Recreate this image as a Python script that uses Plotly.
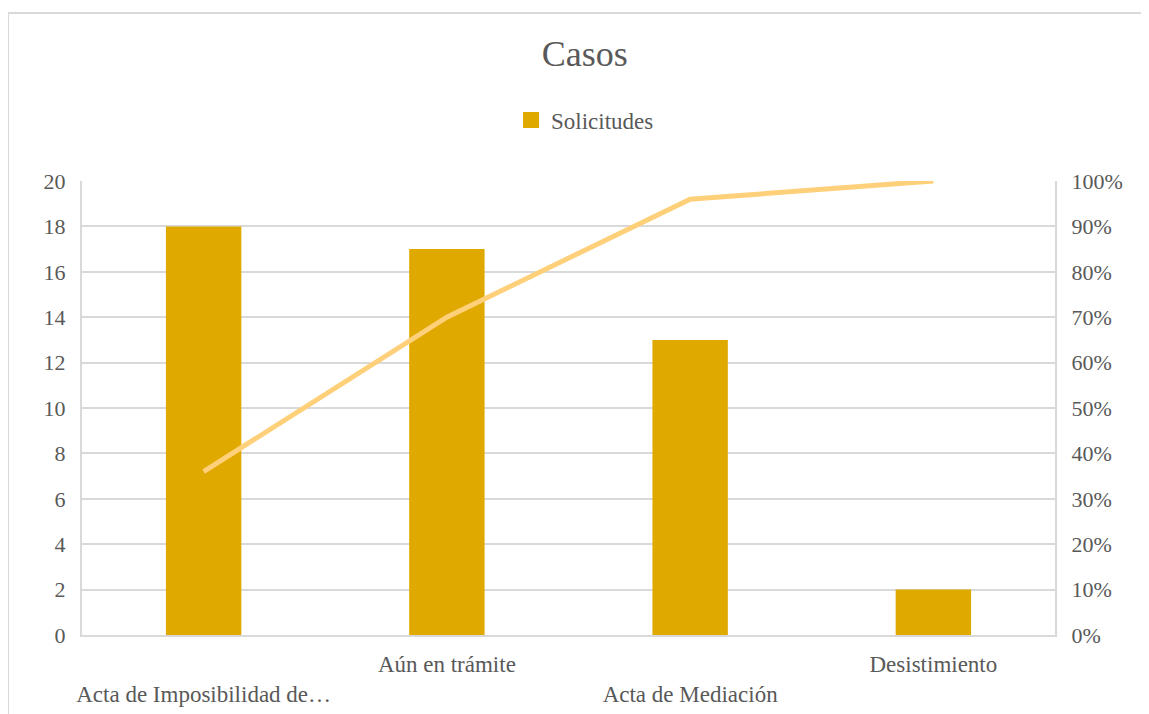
import plotly.graph_objects as go

categories = ["Acta de Imposibilidad de…", "Aún en trámite", "Acta de Mediación", "Desistimiento"]
solicitudes = [18, 17, 13, 2]
acumulado_pct = [36, 70, 96, 100]
y_ticks = [0, 2, 4, 6, 8, 10, 12, 14, 16, 18, 20]
y2_ticks = [0, 10, 20, 30, 40, 50, 60, 70, 80, 90, 100]

tick_text = [c if i % 2 == 1 else "<br>" + c for i, c in enumerate(categories)]

FONT = "Liberation Serif, Times New Roman, serif"
GREY = "#595959"
GRID = "#D9D9D9"
BAR = "#E0A900"

fig = go.Figure()
fig.add_trace(go.Bar(x=categories, y=solicitudes, name="Solicitudes",
                     marker=dict(color=BAR, line=dict(width=0)),
                     width=0.31, yaxis="y", showlegend=False))
fig.add_trace(go.Scatter(x=[None], y=[None], mode="markers", name="Solicitudes",
                         marker=dict(symbol="square", size=19, color=BAR),
                         showlegend=True))
fig.add_trace(go.Scatter(x=categories, y=acumulado_pct, mode="lines", name="Acumulado",
                         line=dict(color="#FFD07A", width=5), yaxis="y2",
                         showlegend=False))

fig.update_layout(
    width=1149, height=714,
    margin=dict(l=74, r=102, t=173, b=87),
    paper_bgcolor="white", plot_bgcolor="white",
    font=dict(family=FONT, color=GREY, size=22),
    title=dict(text="Casos", x=0.502, xanchor="center", y=0.937, yanchor="middle",
               font=dict(family=FONT, size=36, color=GREY)),
    showlegend=True,
    legend=dict(orientation="h", x=0.517, xanchor="center", y=1.134, yanchor="middle",
                font=dict(family=FONT, size=23, color=GREY), itemsizing="trace"),
    bargap=0.69,
    xaxis=dict(type="category", tickmode="array", tickvals=categories, ticktext=tick_text,
               showgrid=False, showline=True, linecolor=GRID, linewidth=2, mirror=False,
               ticks="", ticklabelstandoff=7, tickfont=dict(family=FONT, size=23, color=GREY)),
    yaxis=dict(range=[0, 20], tickmode="array", tickvals=y_ticks, showgrid=True,
               gridcolor=GRID, gridwidth=2, showline=True, linecolor=GRID, linewidth=2,
               zeroline=False, ticks="", ticklabelstandoff=10,
               tickfont=dict(family=FONT, size=22, color=GREY)),
    yaxis2=dict(range=[0, 100], overlaying="y", side="right", tickmode="array",
                tickvals=y2_ticks, ticktext=[f"{v}%" for v in y2_ticks],
                showgrid=False, showline=True, linecolor=GRID, linewidth=2,
                zeroline=False, ticks="", ticklabelstandoff=10,
                tickfont=dict(family=FONT, size=22, color=GREY)),
    shapes=[dict(type="rect", xref="paper", yref="paper",
                 x0=-0.076, x1=1.2, y0=-0.3, y1=1.370,
                 line=dict(color=GRID, width=2), layer="below")],
)

fig.write_html("out.html")
